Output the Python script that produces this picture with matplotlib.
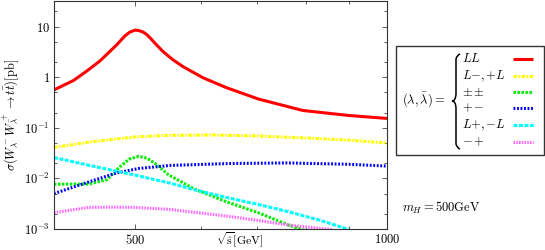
import matplotlib
matplotlib.use('Agg')
import matplotlib.pyplot as plt
from matplotlib.lines import Line2D
from matplotlib.patches import Rectangle, PathPatch
from matplotlib.path import Path
from matplotlib.transforms import Affine2D
from matplotlib.ticker import FixedLocator, FixedFormatter, LogLocator, NullFormatter

plt.rcParams['mathtext.fontset'] = 'cm'
plt.rcParams['font.family'] = 'DejaVu Serif'

# sqrt(s) [GeV] / cross section [pb]
s_LL = [400, 422, 438, 454, 475, 486, 493, 500, 505, 511, 516, 522, 530, 540, 555, 571, 603, 643, 702, 793, 900, 1000]
LL = [0.56, 0.86, 1.33, 2.1, 4.3, 6.5, 7.8, 8.5, 8.35, 7.8, 7.0, 5.8, 4.4, 3.2, 2.2, 1.6, 0.97, 0.62, 0.37, 0.22, 0.175, 0.153]

s_Lm = [400, 440, 500, 550, 620, 700, 800, 900, 1000]
Lm = [0.041, 0.052, 0.066, 0.071, 0.072, 0.069, 0.063, 0.057, 0.05]

s_pp = [400, 440, 463, 479, 492, 505, 517, 530, 548, 587, 643, 705, 762, 800]
pp = [0.0077, 0.0077, 0.0095, 0.0168, 0.024, 0.0273, 0.025, 0.019, 0.0118, 0.0063, 0.00345, 0.00204, 0.0012, 0.00092]

s_pm = [400, 440, 475, 505, 550, 650, 760, 900, 1000]
pm = [0.005, 0.0085, 0.0128, 0.0157, 0.018, 0.0197, 0.0202, 0.019, 0.0175]

s_Lp = [400, 440, 500, 550, 590, 643, 705, 762, 830, 900]
Lp = [0.0258, 0.0182, 0.0116, 0.0081, 0.0059, 0.0042, 0.0030, 0.0022, 0.0015, 0.00098]

s_mp = [400, 440, 470, 500, 550, 643, 705, 762, 860]
mp = [0.0021, 0.00267, 0.0027, 0.00267, 0.00244, 0.0018, 0.00146, 0.0012, 0.00097]

labels = [r'$LL$', r'$L{-},{+}L$', r'$\pm\pm$', r'$+-$', r'$L{+},{-}L$', r'$-+$']
colors = ['#ff0000', '#ffff00', '#00ee00', '#0000ff', '#00ffff', '#ff66ff']
dashes = [None, (1.2, 0.45, 0.5, 0.45), (0.8, 0.5), (0.6, 0.55), (1.3, 0.5), (0.5, 0.4)]

fig = plt.figure(figsize=(5.45, 2.5), dpi=100)
ax = fig.add_axes([54 / 545, 21 / 250, 333 / 545, 228 / 250])

series = [(s_LL, LL), (s_Lm, Lm), (s_pp, pp), (s_pm, pm), (s_Lp, Lp), (s_mp, mp)]
for (xs, ys), c, d in zip(series, colors, dashes):
    if d is None:
        ax.plot(xs, ys, color=c, lw=2.2, solid_capstyle='butt', solid_joinstyle='round')
    else:
        ax.plot(xs, ys, color=c, lw=2.2, linestyle=(0, d), dash_capstyle='butt')

ax.set_xscale('log')
ax.set_yscale('log')
ax.set_xlim(400, 1000)
ax.set_ylim(1e-3, 32)

ax.xaxis.set_major_locator(FixedLocator([500, 1000]))
ax.xaxis.set_major_formatter(FixedFormatter(['$500$', '$1000$']))
ax.xaxis.set_minor_locator(FixedLocator([600, 700, 800, 900]))
ax.xaxis.set_minor_formatter(NullFormatter())
ax.yaxis.set_major_locator(FixedLocator([1e-3, 1e-2, 1e-1, 1, 10]))
ax.yaxis.set_major_formatter(FixedFormatter(['$10^{-3}$', '$10^{-2}$', '$10^{-1}$', '$1$', '$10$']))
ax.yaxis.set_minor_locator(LogLocator(subs=(2, 5)))
ax.yaxis.set_minor_formatter(NullFormatter())
ax.tick_params(which='both', direction='in', top=True, right=True, labelsize=9, width=0.6, color='#444444')
ax.tick_params(which='major', length=3.5, pad=3)
ax.tick_params(which='minor', length=2.5)
for sp in ax.spines.values():
    sp.set_linewidth(0.8)
    sp.set_color('#333333')

ax.set_xlabel(r'$\sqrt{\hat{\mathrm{s}}}[\mathrm{GeV}]$', fontsize=8.5, va='center')
ax.xaxis.set_label_coords((240 - 54) / 333, -11 / 228)
ax.set_ylabel(r'$\sigma(W^-_\lambda W^+_{\bar\lambda}\to t\bar t)[\mathrm{pb}]$', fontsize=9, labelpad=2)

# pixel coordinates (origin top-left) for the key drawn beside the axes
px = Affine2D().scale(1 / 545, -1 / 250).translate(0, 1) + fig.transFigure

fig.patches.append(Rectangle((396, 46), 148, 109, transform=px, fill=False,
                             edgecolor='#333333', lw=1.0))
fig.text(424, 100, r'$(\lambda,\bar\lambda)=$', transform=px, ha='center', va='center', fontsize=9)

# curly brace
bx, top, bot, mid = 457, 54, 149, 101
verts = [(bx + 3, top), (bx, top + 1), (bx - 1, top + 5), (bx - 1, mid - 8),
         (bx - 1, mid - 2), (bx - 3, mid), (bx - 5, mid),
         (bx - 3, mid), (bx - 1, mid + 2), (bx - 1, mid + 8),
         (bx - 1, bot - 5), (bx, bot - 1), (bx + 3, bot)]
codes = [Path.MOVETO, Path.CURVE3, Path.CURVE3, Path.LINETO,
         Path.CURVE4, Path.CURVE4, Path.CURVE4,
         Path.CURVE4, Path.CURVE4, Path.CURVE4,
         Path.LINETO, Path.CURVE3, Path.CURVE3]
fig.patches.append(PathPatch(Path(verts, codes), transform=px, fill=False, lw=1.1, edgecolor='black'))

rows = [59, 76, 92, 108, 125, 142]
for lab, c, d, y in zip(labels, colors, dashes, rows):
    fig.text(462, y, lab, transform=px, ha='left', va='center', fontsize=9)
    if d is None:
        ln = Line2D([513, 533], [y, y], transform=px, color=c, lw=2.2, solid_capstyle='butt')
    else:
        ln = Line2D([513, 533], [y, y], transform=px, color=c, lw=2.2, linestyle=(0, d), dash_capstyle='butt')
    fig.lines.append(ln)

fig.text(402, 208, r'$m_H=500\mathrm{GeV}$', transform=px, ha='left', va='center', fontsize=9)

fig.savefig('out.png', dpi=100)
